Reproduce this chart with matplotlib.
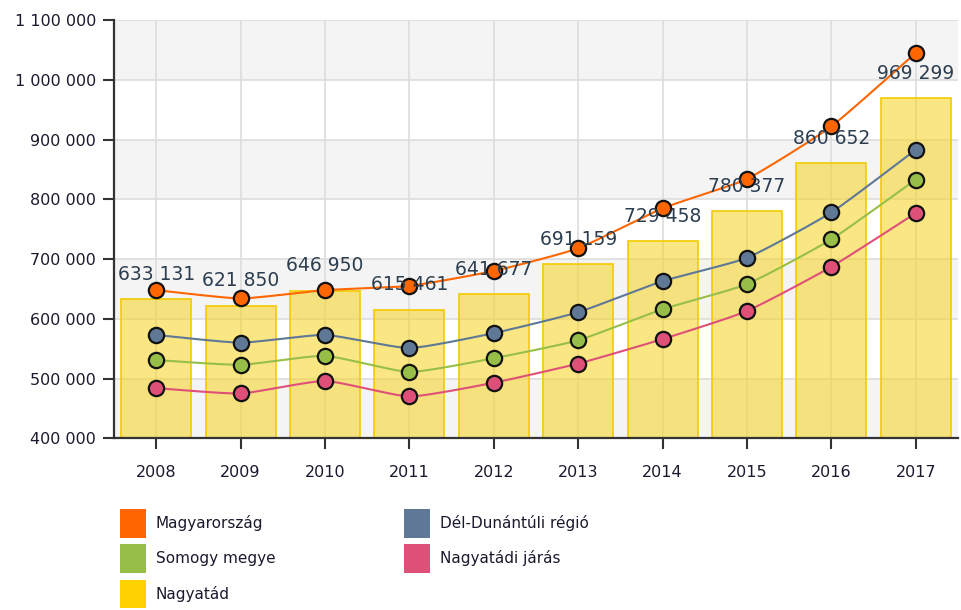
import numpy as np
import matplotlib
matplotlib.use("Agg")
import matplotlib.pyplot as plt
from matplotlib.patches import Patch

years = ["2008", "2009", "2010", "2011", "2012", "2013", "2014", "2015", "2016", "2017"]
nagyatad = [633131, 621850, 646950, 615461, 641677, 691159, 729458, 780377, 860652, 969299]
magyarorszag = [648000, 634000, 648000, 655000, 680000, 718000, 785000, 834000, 922000, 1045000]
del_dunantul = [573000, 560000, 573000, 551000, 576000, 611000, 663000, 702000, 778000, 883000]
somogy = [531000, 523000, 538000, 511000, 534000, 564000, 616000, 658000, 733000, 833000]
nagyatadi_jaras = [484000, 475000, 496000, 470000, 493000, 525000, 566000, 613000, 687000, 777000]
y_ticks = [400000, 500000, 600000, 700000, 800000, 900000, 1000000, 1100000]

C_ORANGE = "#ff6600"
C_BLUE = "#5f7896"
C_GREEN = "#97bf47"
C_PINK = "#df5079"
C_YELLOW = "#ffd200"


def fmt(v):
    return f"{v:,}".replace(",", " ")


def smooth(x, y, n=20, t=0.5):
    # cardinal spline through the data points (for drawing the curve only)
    x = np.asarray(x, float)
    y = np.asarray(y, float)
    xs, ys = [], []
    for i in range(len(x) - 1):
        p0 = (x[i - 1], y[i - 1]) if i > 0 else (x[i], y[i])
        p1 = (x[i], y[i])
        p2 = (x[i + 1], y[i + 1])
        p3 = (x[i + 2], y[i + 2]) if i + 2 < len(x) else (x[i + 1], y[i + 1])
        m1 = ((p2[0] - p0[0]) * t / 2, (p2[1] - p0[1]) * t / 2)
        m2 = ((p3[0] - p1[0]) * t / 2, (p3[1] - p1[1]) * t / 2)
        s = np.linspace(0, 1, n, endpoint=(i == len(x) - 2))
        h00 = 2 * s**3 - 3 * s**2 + 1
        h10 = s**3 - 2 * s**2 + s
        h01 = -2 * s**3 + 3 * s**2
        h11 = s**3 - s**2
        xs.append(h00 * p1[0] + h10 * m1[0] + h01 * p2[0] + h11 * m2[0])
        ys.append(h00 * p1[1] + h10 * m1[1] + h01 * p2[1] + h11 * m2[1])
    return np.concatenate(xs), np.concatenate(ys)


fig = plt.figure(figsize=(9.61, 6.10), dpi=100)
ax = fig.add_axes([114 / 961, 1 - 438.3 / 610, (958 - 114) / 961, (438.3 - 20) / 610])

x = np.arange(len(years))
ax.set_xlim(-0.5, len(years) - 0.5)
ax.set_ylim(400000, 1100000)

# alternating bands
for i in range(len(y_ticks) - 1):
    if i % 2 == 0:
        ax.axhspan(y_ticks[i], y_ticks[i + 1], color="#f4f4f4", zorder=0, lw=0)
ax.set_yticks(y_ticks)
ax.set_yticklabels([fmt(v) for v in y_ticks])
ax.set_xticks(x)
ax.set_xticklabels(years)
ax.grid(True, color="#dddddd", lw=1.2, zorder=0.5)
ax.set_axisbelow(True)

ax.bar(x, nagyatad, width=0.83, bottom=0, color="#f7d21c", alpha=0.55, edgecolor="none", zorder=2)
ax.bar(x, nagyatad, width=0.83, fill=False, edgecolor="#f5cb00", lw=1.2, zorder=2.1)

for i, v in enumerate(nagyatad):
    ax.annotate(fmt(v), (x[i], v), xytext=(0, 11), textcoords="offset points",
                ha="center", va="bottom", fontsize=13.5, color="#2c3e50", zorder=6,
                annotation_clip=False)

series = [
    (magyarorszag, C_ORANGE),
    (del_dunantul, C_BLUE),
    (somogy, C_GREEN),
    (nagyatadi_jaras, C_PINK),
]
for vals, c in series:
    sx, sy = smooth(x, vals)
    ax.plot(sx, sy, color=c, lw=1.5, zorder=3)
    ax.plot(x, vals, ls="none", marker="o", ms=11, mfc=c, mec="#111111", mew=1.6, zorder=4)

for side in ["top", "right"]:
    ax.spines[side].set_visible(False)
for side in ["left", "bottom"]:
    ax.spines[side].set_color("#333333")
    ax.spines[side].set_linewidth(1.6)
ax.tick_params(axis="y", length=8, width=1.5, color="#333333", labelsize=11.5, labelcolor="#1a1a2e", pad=5)
ax.tick_params(axis="x", length=8, width=1.5, color="#333333", labelsize=11.5, labelcolor="#1a1a2e", pad=11)

handles = [
    Patch(facecolor=C_ORANGE, edgecolor="none", label="Magyarország"),
    Patch(facecolor=C_GREEN, edgecolor="none", label="Somogy megye"),
    Patch(facecolor=C_YELLOW, edgecolor="none", label="Nagyatád"),
    Patch(facecolor=C_BLUE, edgecolor="none", label="Dél-Dunántúli régió"),
    Patch(facecolor=C_PINK, edgecolor="none", label="Nagyatádi járás"),
]
leg = fig.legend(handles=handles, loc="upper left", bbox_to_anchor=(120 / 961, 1 - 509 / 610),
                 ncol=2, frameon=False, fontsize=11, handlelength=1.7, handleheight=2.5,
                 labelspacing=0.45, columnspacing=8.4, handletextpad=0.65,
                 labelcolor="#1a1a2e", borderaxespad=0, borderpad=0)

fig.savefig("out.png", dpi=100)
